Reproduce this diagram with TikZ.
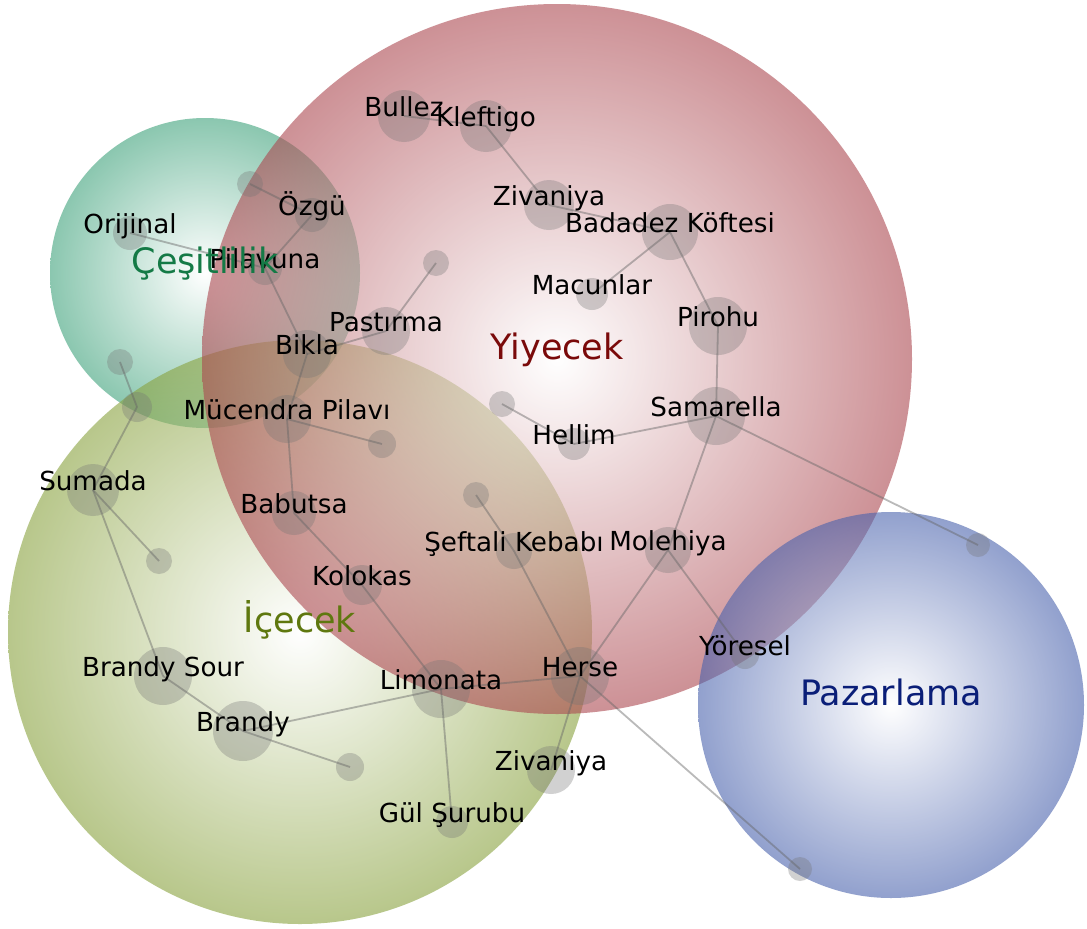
\documentclass[tikz,border=0pt]{standalone}
\usepackage{fontspec}
\setmainfont{DejaVu Sans}
\definecolor{yiyc}{RGB}{172,72,80}
\definecolor{cesc}{RGB}{62,162,123}
\definecolor{icec}{RGB}{137,162,62}
\definecolor{pazc}{RGB}{73,98,173}
\definecolor{yiyt}{RGB}{122,10,10}
\definecolor{cest}{RGB}{20,122,70}
\definecolor{icet}{RGB}{95,120,15}
\definecolor{pazt}{RGB}{10,30,120}
\begin{document}
\begin{tikzpicture}[x=1pt,y=-1pt,
  group/.style={fill opacity=0.6, inner color=white},
  gdot/.style={circle, fill=black!55, fill opacity=0.32, draw=none,
    inner sep=0pt, minimum size=2*#1},
  lab/.style={anchor=base, inner sep=0pt, text=black,
    font=\fontsize{26.2}{30}\selectfont},
  cat/.style={anchor=base, inner sep=0pt,
    font=\fontsize{35}{40}\selectfont},
  link/.style={draw=black!60, draw opacity=0.45, line width=1.8pt}]
\useasboundingbox (0,0) rectangle (1087,929);
\fill[white] (0,0) rectangle (1087,929);

% category discs
\shade[group, outer color=cesc] (205,273) circle[radius=155];
\shade[group, outer color=icec] (300,632) circle[radius=292];
\shade[group, outer color=yiyc] (557,359) circle[radius=355];
\shade[group, outer color=pazc] (891,705) circle[radius=193];

% term dots
\node[gdot=26] (bullez) at (404,116) {};
\node[gdot=26] (kleftigo) at (486,126) {};
\node[gdot=25] (zivA) at (549,205) {};
\node[gdot=28] (badadez) at (670,232) {};
\node[gdot=16] (macunlar) at (592,294) {};
\node[gdot=29] (pirohu) at (718,326) {};
\node[gdot=29] (samarella) at (716,416) {};
\node[gdot=16] (hellim) at (574,444) {};
\node[gdot=13] (d1) at (502,404) {};
\node[gdot=13] (d2) at (436,263) {};
\node[gdot=24] (pastirma) at (386,331) {};
\node[gdot=24] (bikla) at (307,354) {};
\node[gdot=17] (ozgu) at (312,215) {};
\node[gdot=13] (d3) at (250,184) {};
\node[gdot=17] (pilavuna) at (265,268) {};
\node[gdot=17] (orijinal) at (130,233) {};
\node[gdot=13] (d4) at (120,362) {};
\node[gdot=15] (d5) at (137,407) {};
\node[gdot=24] (mucendra) at (287,419) {};
\node[gdot=14] (d6) at (382,444) {};
\node[gdot=26] (sumada) at (93,490) {};
\node[gdot=13] (d7) at (159,561) {};
\node[gdot=22] (babutsa) at (294,513) {};
\node[gdot=13] (d8) at (476,495) {};
\node[gdot=18] (seftali) at (514,551) {};
\node[gdot=23] (molehiya) at (668,550) {};
\node[gdot=20] (kolokas) at (362,585) {};
\node[gdot=29] (brandysour) at (163,676) {};
\node[gdot=29] (limonata) at (441,689) {};
\node[gdot=29] (herse) at (580,676) {};
\node[gdot=14] (yoresel) at (745,655) {};
\node[gdot=12] (d9) at (978,545) {};
\node[gdot=30] (brandy) at (243,731) {};
\node[gdot=14] (d10) at (350,767) {};
\node[gdot=24] (zivB) at (551,770) {};
\node[gdot=16] (gul) at (452,822) {};
\node[gdot=12] (d11) at (800,869) {};

% links between terms
\foreach \a/\b in {bullez/kleftigo, kleftigo/zivA, zivA/badadez,
  badadez/macunlar, badadez/pirohu, pirohu/samarella, samarella/hellim,
  hellim/d1, samarella/d9, samarella/molehiya, molehiya/herse,
  molehiya/yoresel, herse/limonata, herse/zivB, herse/d11, d8/seftali,
  seftali/herse, limonata/kolokas, kolokas/babutsa, babutsa/mucendra,
  mucendra/d6, mucendra/bikla, bikla/pastirma, pastirma/d2,
  bikla/pilavuna, pilavuna/ozgu, ozgu/d3, pilavuna/orijinal,
  limonata/brandy, limonata/gul, brandy/brandysour, brandy/d10,
  brandysour/sumada, sumada/d7, sumada/d5, d5/d4}
  \draw[link] (\a.center) -- (\b.center);

% term labels
\node[lab] (lbullez) at (bullez.center) {Bullez};
\node[lab] (lkleftigo) at (kleftigo.center) {Kleftigo};
\node[lab] (lzivA) at (zivA.center) {Zivaniya};
\node[lab] (lbadadez) at (badadez.center) {Badadez Köftesi};
\node[lab] (lmacunlar) at (macunlar.center) {Macunlar};
\node[lab] (lpirohu) at (pirohu.center) {Pirohu};
\node[lab] (lsamarella) at (samarella.center) {Samarella};
\node[lab] (lhellim) at (hellim.center) {Hellim};
\node[lab] (lpastirma) at (pastirma.center) {Pastırma};
\node[lab] (lbikla) at (bikla.center) {Bikla};
\node[lab] (lozgu) at (ozgu.center) {Özgü};
\node[lab] (lpilavuna) at (pilavuna.center) {Pilavuna};
\node[lab] (lorijinal) at (orijinal.center) {Orijinal};
\node[lab] (lmucendra) at (mucendra.center) {Mücendra Pilavı};
\node[lab] (lsumada) at (sumada.center) {Sumada};
\node[lab] (lbabutsa) at (babutsa.center) {Babutsa};
\node[lab] (lseftali) at (seftali.center) {Şeftali Kebabı};
\node[lab] (lmolehiya) at (molehiya.center) {Molehiya};
\node[lab] (lkolokas) at (kolokas.center) {Kolokas};
\node[lab] (lbrandysour) at (brandysour.center) {Brandy Sour};
\node[lab] (llimonata) at (limonata.center) {Limonata};
\node[lab] (lherse) at (herse.center) {Herse};
\node[lab] (lyoresel) at (yoresel.center) {Yöresel};
\node[lab] (lbrandy) at (brandy.center) {Brandy};
\node[lab] (lzivB) at (zivB.center) {Zivaniya};
\node[lab] (lgul) at (gul.center) {Gül Şurubu};

% category labels
\node[cat, text=cest] (tces) at (205,273) {Çeşitlilik};
\node[cat, text=icet] (tice) at (300,632) {İçecek};
\node[cat, text=yiyt] (tyiy) at (557,359) {Yiyecek};
\node[cat, text=pazt] (tpaz) at (891,705) {Pazarlama};
\end{tikzpicture}
\end{document}
